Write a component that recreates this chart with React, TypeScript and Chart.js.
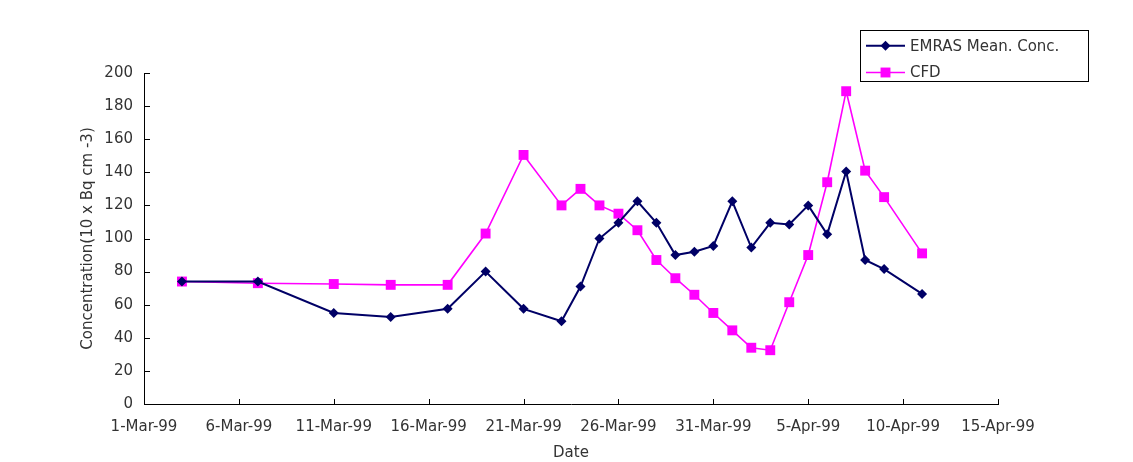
import React, { useEffect, useRef } from "react";
import { Chart, registerables } from "chart.js";

Chart.register(...registerables);

// Day offsets counted from 1-Mar-99 (day 0)
const dates: string[] = [
  "1999-03-03", "1999-03-07", "1999-03-11", "1999-03-14", "1999-03-17",
  "1999-03-19", "1999-03-21", "1999-03-23", "1999-03-24", "1999-03-25",
  "1999-03-26", "1999-03-27", "1999-03-28", "1999-03-29", "1999-03-30",
  "1999-03-31", "1999-04-01", "1999-04-02", "1999-04-03", "1999-04-04",
  "1999-04-05", "1999-04-06", "1999-04-07", "1999-04-08", "1999-04-09",
  "1999-04-11",
];

const emrasValues: number[] = [
  74, 74, 55, 52.5, 57.5,
  80, 57.5, 50, 71, 100,
  109.5, 122.5, 109.5, 90, 92,
  95.5, 122.5, 94.5, 109.5, 108.5,
  120, 102.5, 140.5, 87, 81.5,
  66.5,
];

const cfdValues: number[] = [
  74, 73, 72.5, 72, 72,
  103, 150.5, 120, 130, 120,
  115, 105, 87, 76, 66,
  55, 44.5, 34, 32.5, 61.5,
  90, 134, 189, 141, 125,
  91,
];

const xTickLabels: string[] = [
  "1-Mar-99", "6-Mar-99", "11-Mar-99", "16-Mar-99", "21-Mar-99",
  "26-Mar-99", "31-Mar-99", "5-Apr-99", "10-Apr-99", "15-Apr-99",
];

const seriesNames: string[] = ["EMRAS Mean. Conc.", "CFD"];
const xTitle = "Date";
const yTitle = "Concentration(10 x Bq cm -3)";

const START = Date.UTC(1999, 2, 1);
const dayOf = (d: string) => {
  const [y, m, dd] = d.split("-").map(Number);
  return Math.round((Date.UTC(y, m - 1, dd) - START) / 86400000);
};

const FONT = "'DejaVu Sans', sans-serif";
const TEXT = "#333";

const innerTicks = {
  id: "innerTicks",
  afterDraw(chart: any) {
    const { ctx, chartArea, scales } = chart;
    ctx.save();
    ctx.strokeStyle = "#000";
    ctx.lineWidth = 1;
    ctx.beginPath();
    scales.x.ticks.forEach((t: any) => {
      const px = Math.round(scales.x.getPixelForValue(t.value)) + 0.5;
      ctx.moveTo(px, chartArea.bottom);
      ctx.lineTo(px, chartArea.bottom - 5);
    });
    scales.y.ticks.forEach((t: any) => {
      const py = Math.round(scales.y.getPixelForValue(t.value)) + 0.5;
      ctx.moveTo(chartArea.left, py);
      ctx.lineTo(chartArea.left + 6, py);
    });
    ctx.stroke();
    ctx.restore();
  },
};

const boxLegend = {
  id: "boxLegend",
  afterDraw(chart: any) {
    const { ctx } = chart;
    const bx = 860.5, by = 30.5, bw = 228, bh = 51;
    ctx.save();
    ctx.fillStyle = "#fff";
    ctx.fillRect(bx, by, bw, bh);
    ctx.strokeStyle = "#000";
    ctx.lineWidth = 1;
    ctx.strokeRect(bx, by, bw, bh);
    const rows = [45.7, 72.5];
    chart.data.datasets.forEach((ds: any, i: number) => {
      const y = rows[i];
      ctx.strokeStyle = ds.borderColor;
      ctx.lineWidth = ds.borderWidth;
      ctx.beginPath();
      ctx.moveTo(866, y);
      ctx.lineTo(905, y);
      ctx.stroke();
      ctx.fillStyle = ds.pointBackgroundColor;
      ctx.beginPath();
      if (ds.pointStyle === "rectRot") {
        const r = ds.pointRadius;
        ctx.moveTo(885.5, y - r);
        ctx.lineTo(885.5 + r, y);
        ctx.lineTo(885.5, y + r);
        ctx.lineTo(885.5 - r, y);
        ctx.closePath();
      } else {
        const s = ds.pointRadius * Math.SQRT1_2;
        ctx.rect(885.5 - s, y - s, 2 * s, 2 * s);
      }
      ctx.fill();
      ctx.fillStyle = TEXT;
      ctx.font = `15px ${FONT}`;
      ctx.textAlign = "left";
      ctx.textBaseline = "middle";
      ctx.fillText(ds.label, 910, y + 1);
    });
    ctx.restore();
  },
};

export default function App() {
  const ref = useRef<HTMLCanvasElement>(null);
  useEffect(() => {
    if (!ref.current) return;
    const days = dates.map(dayOf);
    const chart = new Chart(ref.current, {
      type: "line",
      data: {
        datasets: [
          {
            label: seriesNames[0],
            data: days.map((d, i) => ({ x: d, y: emrasValues[i] })),
            borderColor: "#000066",
            backgroundColor: "#000066",
            pointBackgroundColor: "#000066",
            pointBorderColor: "#000066",
            borderWidth: 2,
            pointStyle: "rectRot",
            pointRadius: 5,
            pointBorderWidth: 0,
            tension: 0,
            order: 1,
          },
          {
            label: seriesNames[1],
            data: days.map((d, i) => ({ x: d, y: cfdValues[i] })),
            borderColor: "#ff00ff",
            backgroundColor: "#ff00ff",
            pointBackgroundColor: "#ff00ff",
            pointBorderColor: "#ff00ff",
            borderWidth: 1.6,
            pointStyle: "rect",
            pointRadius: 7,
            pointBorderWidth: 0,
            tension: 0,
            order: 2,
          },
        ],
      },
      options: {
        responsive: false,
        animation: false,
        layout: { padding: { left: 0, top: 73, right: 135, bottom: 0 } },
        plugins: {
          legend: { display: false },
          tooltip: { enabled: false },
        },
        scales: {
          x: {
            type: "linear",
            min: 0,
            max: 45,
            afterFit: (s: any) => { s.height = 58; },
            ticks: {
              stepSize: 5,
              autoSkip: false,
              maxRotation: 0,
              padding: 14,
              color: TEXT,
              font: { family: FONT, size: 15 },
              callback: (v: any) => xTickLabels[Math.round(Number(v) / 5)] ?? "",
            },
            grid: { display: true, drawOnChartArea: false, drawTicks: false },
            border: { display: true, color: "#000", width: 1 },
            title: {
              display: true,
              text: xTitle,
              color: TEXT,
              font: { family: FONT, size: 15 },
              padding: { top: 0, bottom: 0 },
            },
          },
          y: {
            min: 0,
            max: 200,
            afterFit: (s: any) => { s.width = 144; },
            ticks: {
              stepSize: 20,
              padding: 11,
              color: TEXT,
              font: { family: FONT, size: 15 },
            },
            grid: { display: true, drawOnChartArea: false, drawTicks: false },
            border: { display: true, color: "#000", width: 1 },
            title: {
              display: true,
              text: yTitle,
              color: TEXT,
              font: { family: FONT, size: 15 },
              padding: { top: 79, bottom: 0 },
            },
          },
        },
      },
      plugins: [innerTicks, boxLegend],
    });
    return () => chart.destroy();
  }, []);
  return (
    <div style={{ position: "fixed", left: 0, top: 0, width: 1133, height: 462, background: "#fff" }}>
      <canvas ref={ref} width={1133} height={462} />
    </div>
  );
}
